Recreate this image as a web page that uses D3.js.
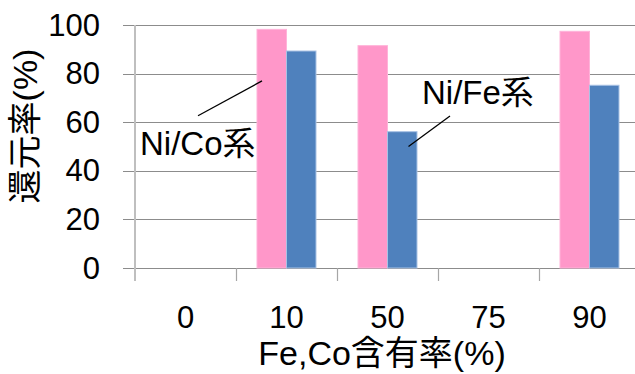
<!DOCTYPE html>
<html>
<head>
<meta charset="utf-8">
<script src="https://cdn.jsdelivr.net/npm/d3@7"></script>
<style>
  html, body { margin: 0; padding: 0; background: #fff; }
  svg { display: block; }
  text { font-family: "Liberation Sans", Arial, "Noto Sans CJK JP", sans-serif; fill: #000; }
</style>
</head>
<body>
<svg id="chart" width="635" height="374"></svg>
<script>
// Fe/Co content categories and reduction rates for the two alloy systems
const categories = ["0", "10", "50", "75", "90"];
const niCoValues = [0, 98.2, 91.5, 0, 97.4];
const niFeValues = [0, 89.3, 56.1, 0, 75.2];
const yTicks = [0, 20, 40, 60, 80, 100];
const seriesNames = ["Ni/Co系", "Ni/Fe系"];

const svg = d3.select("#chart");
const plot = { left: 135, right: 640, top: 25, bottom: 268 };

const x = d3.scaleBand().domain(categories).range([plot.left, plot.right]);
const inner = d3.scaleBand().domain(seriesNames)
  .range([0, 59]).paddingInner(0);
const y = d3.scaleLinear().domain([0, 100]).range([plot.bottom, plot.top]);

// horizontal gridlines (extend a little left of the axis)
svg.append("g").selectAll("line").data(yTicks).join("line")
  .attr("x1", plot.left - 12).attr("x2", 635)
  .attr("y1", d => Math.round(y(d)) + 0.5).attr("y2", d => Math.round(y(d)) + 0.5)
  .attr("stroke", "#8c8c8c").attr("stroke-width", 1.2);

// vertical value axis line
svg.append("line")
  .attr("x1", plot.left).attr("x2", plot.left)
  .attr("y1", plot.top).attr("y2", plot.bottom + 13)
  .attr("stroke", "#bfbfbf").attr("stroke-width", 2);

// category boundary ticks
svg.append("g").selectAll("line").data(categories.slice(1)).join("line")
  .attr("x1", d => Math.round(x(d)) + 0.5).attr("x2", d => Math.round(x(d)) + 0.5)
  .attr("y1", plot.bottom).attr("y2", plot.bottom + 13)
  .attr("stroke", "#a6a6a6").attr("stroke-width", 1.2);

// bars
const series = [
  { name: seriesNames[0], values: niCoValues, fill: "#ff97c9", stroke: "#ffb3d9" },
  { name: seriesNames[1], values: niFeValues, fill: "#4f81bd", stroke: "#a9c2e4" }
];
series.forEach(s => {
  svg.append("g").selectAll("rect").data(categories).join("rect")
    .attr("x", d => x(d) + (x.bandwidth() - 59) / 2 + inner(s.name))
    .attr("y", (d, i) => y(s.values[i]))
    .attr("width", inner.bandwidth())
    .attr("height", (d, i) => y(0) - y(s.values[i]))
    .attr("fill", s.fill)
    .attr("stroke", (d, i) => s.values[i] > 0 ? s.stroke : "none")
    .attr("stroke-width", 1);
});

// y tick labels
svg.append("g").selectAll("text").data(yTicks).join("text")
  .attr("x", 100).attr("y", d => y(d))
  .attr("text-anchor", "end").attr("dominant-baseline", "central")
  .style("font-size", "31px")
  .text(d => d);

// x tick labels
svg.append("g").selectAll("text").data(categories).join("text")
  .attr("x", d => x(d) + x.bandwidth() / 2).attr("y", 328)
  .attr("text-anchor", "middle")
  .style("font-size", "31px")
  .text(d => d);

// axis titles
svg.append("text")
  .attr("transform", "translate(37,126) rotate(-90)")
  .attr("text-anchor", "middle")
  .style("font-size", "34px")
  .text("還元率(%)");

svg.append("text")
  .attr("x", 382).attr("y", 365)
  .attr("text-anchor", "middle")
  .style("font-size", "34px")
  .text("Fe,Co含有率(%)");

// series callouts
const cx10 = x("10") + (x.bandwidth() - 59) / 2;
svg.append("line")
  .attr("x1", 198).attr("y1", 115.7)
  .attr("x2", cx10 + inner(seriesNames[0]) + 5).attr("y2", y(77))
  .attr("stroke", "#000").attr("stroke-width", 1.3);
svg.append("text")
  .attr("x", 140).attr("y", 155)
  .style("font-size", "33px")
  .text(seriesNames[0]);

const cx50 = x("50") + (x.bandwidth() - 59) / 2;
svg.append("line")
  .attr("x1", 450).attr("y1", 116)
  .attr("x2", cx50 + inner(seriesNames[1]) + 21).attr("y2", y(50))
  .attr("stroke", "#000").attr("stroke-width", 1.3);
svg.append("text")
  .attr("x", 422).attr("y", 103.5)
  .style("font-size", "33px")
  .text(seriesNames[1]);
</script>
</body>
</html>
